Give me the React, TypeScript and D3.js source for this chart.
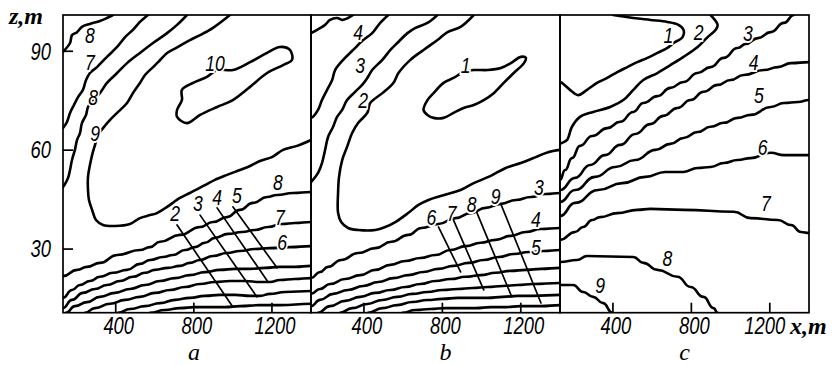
import React from "react";
import * as d3 from "d3";

type P = [number, number];
type L = [number, number, string];

const xDomain = [130, 1400];
const zDomain = [10.7, 101];
const xTicks = [400, 800, 1200];
const zTicks = [30, 60, 90];
const panelLetters = ["a", "b", "c"];

// ---- panel a ----
const aCorner8: P[] = [[130, 89.8], [166, 92.5], [176, 94.9], [202, 95.8], [227, 97.4], [268, 98.3], [319, 99.2], [355, 100.1], [386, 101]];
const a7: P[] = [[565, 101], [524, 98.9], [488, 96.5], [448, 94.3], [407, 91.3], [355, 88.3], [304, 85.2], [268, 83.4], [248, 81.3], [232, 78.3], [207, 76.1], [186, 73.7], [166, 71.3], [150, 68.5], [130, 66.7]];
const a8: P[] = [[765, 101], [714, 98], [663, 95.5], [591, 92.5], [524, 89.5], [458, 86.4], [407, 83.4], [355, 80.4], [319, 77.3], [284, 75.2], [258, 73.1], [248, 70.7], [227, 68.2], [217, 65.2], [202, 63.1], [191, 60.1], [176, 57], [166, 54], [156, 51.6], [140, 49.7], [130, 48.8]];
const a9: P[] = [[985, 101], [898, 97.1], [832, 94.9], [780, 93.4], [719, 91.3], [663, 89.5], [617, 86.7], [591, 85.2], [550, 82.8], [524, 80.4], [488, 77.3], [458, 74.3], [412, 71.6], [371, 69.2], [335, 66.7], [309, 64.6], [294, 61.6], [279, 58.5], [268, 55.5], [258, 51.9], [258, 47.9], [263, 44.9], [279, 41.9], [299, 38.8], [335, 37.3], [396, 37], [473, 37.6], [524, 39.4], [576, 40.3], [611, 40.9], [663, 42.8], [729, 45.5], [780, 47], [857, 49.4], [908, 51], [970, 52.5], [1036, 54], [1088, 55.2], [1139, 56.7], [1200, 57.9], [1257, 60.1], [1328, 61.3], [1400, 63.1]];
const a10: P[] = [[739, 78.3], [796, 80.4], [867, 82.2], [919, 84.3], [1000, 84.3], [1088, 86.7], [1175, 89.5], [1241, 91.3], [1292, 90.4], [1303, 87.4], [1257, 85.8], [1175, 83.4], [1088, 79.2], [1000, 75.2], [919, 73.1], [832, 70.7], [765, 68.2], [714, 70.1], [714, 72.2], [739, 75.2]];
const aLow8: P[] = [[130, 21.8], [202, 23.7], [253, 24.6], [319, 25.8], [407, 28.2], [524, 29.7], [576, 30.6], [627, 32.2], [729, 34.3], [832, 36.7], [898, 38.2], [970, 39.7], [1036, 41.9], [1103, 44], [1175, 45.8], [1226, 46.4], [1308, 47], [1400, 47.3]];
const aLow7: P[] = [[130, 15.2], [176, 17.6], [217, 19.1], [268, 20.3], [319, 21.6], [386, 22.8], [458, 23.7], [524, 25.5], [576, 26.7], [642, 27.6], [693, 28.2], [755, 29.7], [806, 30.6], [857, 31.9], [908, 33.4], [975, 34.6], [1047, 35.2], [1113, 35.8], [1180, 36.7], [1252, 37.6], [1318, 37.9], [1400, 38.2]];
const aLow6: P[] = [[130, 12.1], [176, 14.6], [232, 16.7], [294, 17.9], [355, 19.1], [422, 20.3], [488, 21.6], [550, 22.8], [601, 23.7], [668, 24.3], [729, 24.9], [780, 25.8], [832, 26.7], [898, 27.9], [970, 28.8], [1036, 29.4], [1113, 30], [1190, 30.3], [1292, 30.6], [1400, 30.9]];
const aLow5: P[] = [[145, 10.7], [191, 12.7], [253, 13.9], [319, 15.5], [396, 16.7], [473, 17.9], [550, 19.1], [627, 20.3], [704, 21.2], [780, 22.1], [857, 23], [934, 23.7], [1011, 24], [1088, 24], [1164, 24.3], [1241, 24.6], [1318, 24.6], [1400, 24.9]];
const aLow4: P[] = [[243, 10.7], [294, 12.1], [371, 13.4], [448, 14.6], [524, 15.5], [601, 16.7], [678, 17.6], [755, 18.5], [832, 19.4], [908, 20], [985, 20.3], [1062, 20.3], [1139, 20], [1190, 20], [1241, 20.6], [1318, 20.9], [1400, 21.2]];
const aLow3: P[] = [[412, 10.7], [473, 11.8], [550, 12.7], [627, 13.6], [704, 14.6], [780, 15.2], [857, 15.8], [934, 16.1], [1011, 16.1], [1088, 15.8], [1139, 15.8], [1190, 16.4], [1267, 17], [1400, 17.3]];
const aLow2: P[] = [[576, 10.7], [652, 11.5], [729, 12.1], [806, 12.4], [883, 12.4], [960, 12.4], [1036, 12.7], [1139, 13], [1241, 13], [1400, 13.4]];
const aLeaders: P[][] = [[[714, 37.3], [1000, 12.4]], [[832, 40.3], [1123, 15.5]], [[919, 42.5], [1180, 20]], [[1000, 42.8], [1226, 24.3]]];
const aLabels: L[] = [[268, 95, "8"], [268, 86.8, "7"], [284, 76.1, "8"], [294, 65.2, "9"], [908, 86.4, "10"], [704, 40.9, "2"], [821, 43.9, "3"], [919, 45.8, "4"], [1021, 46.4, "5"], [1231, 50.3, "8"], [1241, 39.7, "7"], [1252, 32.2, "6"]];

// ---- panel b ----
const bCorner: P[] = [[130, 95.5], [161, 96.5], [202, 98], [227, 99.5], [263, 100.1], [289, 99.5], [319, 100.1], [345, 101]];
const b4: P[] = [[524, 101], [483, 98.6], [442, 95.5], [396, 93.4], [345, 90.4], [294, 87.4], [253, 84.3], [238, 81.3], [212, 78.3], [186, 75.2], [166, 72.2], [140, 70.1], [130, 69.8]];
const b3: P[] = [[775, 101], [724, 98.6], [663, 97.1], [622, 95.5], [570, 92.5], [535, 90.4], [494, 87.4], [442, 84.3], [417, 81.9], [391, 79.8], [355, 77.7], [314, 75.2], [289, 72.2], [263, 70.1], [243, 67.1], [217, 64], [202, 60.1], [186, 56.1], [166, 53.1], [130, 50.3]];
const b2: P[] = [[960, 101], [893, 97.4], [826, 95.8], [775, 93.4], [704, 90.4], [637, 87.4], [576, 83.4], [550, 80.4], [494, 77.3], [432, 74.3], [417, 71.3], [371, 68.3], [340, 65.2], [314, 61], [289, 57], [273, 51.9], [268, 47], [268, 41], [284, 38.2], [319, 36.4], [371, 35.8], [458, 35.8], [509, 36.7], [560, 38.2], [627, 41], [678, 43.4], [729, 44.9], [791, 46.1], [893, 47.9], [960, 50], [1047, 52.2], [1123, 54.6], [1200, 56.1], [1277, 57.9], [1339, 59.4], [1400, 60.1]];
const b1: P[] = [[704, 72.2], [724, 75.2], [755, 77.3], [806, 80.4], [857, 81.9], [908, 83.7], [960, 84.3], [1031, 84.3], [1098, 84.9], [1149, 86.4], [1200, 88.3], [1226, 88], [1216, 86.4], [1164, 83.4], [1113, 80.4], [1062, 77.3], [1011, 75.2], [960, 73.7], [908, 72.8], [857, 71.3], [806, 69.8], [755, 69.8], [724, 70.7]];
const bLow3: P[] = [[130, 21.2], [176, 23.05], [217, 24.6], [284, 26.7], [371, 28.8], [458, 30.3], [540, 32.2], [627, 34.3], [693, 36.4], [780, 37.6], [867, 39.4], [944, 40.9], [1021, 42.5], [1098, 43.7], [1175, 44.9], [1252, 45.8], [1328, 46.7], [1400, 47]];
const bLow4: P[] = [[130, 16.4], [176, 17.9], [227, 19.4], [304, 20.9], [381, 22.1], [458, 23.7], [535, 25.2], [611, 26.4], [688, 27.3], [765, 28.2], [842, 29.7], [919, 30.9], [995, 31.9], [1072, 32.8], [1149, 34], [1226, 35.2], [1303, 36.1], [1400, 36.4]];
const bLow5: P[] = [[130, 12.7], [176, 14.6], [243, 16.4], [319, 17.6], [396, 18.8], [473, 20], [550, 21.2], [627, 22.1], [704, 23.05], [780, 24], [857, 24.9], [934, 25.8], [1011, 26.7], [1088, 27.6], [1164, 28.5], [1241, 29.1], [1318, 29.4], [1400, 29.7]];
const bLow6: P[] = [[166, 10.7], [227, 12.7], [304, 14.3], [381, 15.5], [458, 16.7], [535, 17.6], [611, 18.5], [688, 19.4], [765, 20.3], [842, 20.9], [919, 21.6], [995, 22.1], [1072, 22.8], [1149, 23.4], [1226, 23.7], [1303, 24], [1400, 24.3]];
const bLow7: P[] = [[279, 10.7], [340, 12.1], [417, 13.35], [494, 14.56], [570, 15.5], [647, 16.4], [724, 17], [801, 17.6], [878, 17.9], [954, 18.2], [1031, 18.5], [1108, 18.8], [1185, 19.1], [1262, 19.4], [1400, 19.7]];
const bLow8: P[] = [[422, 10.7], [494, 12.1], [570, 13], [647, 13.95], [724, 14.56], [801, 14.9], [878, 15.2], [954, 15.2], [1031, 15.2], [1108, 15.5], [1185, 15.8], [1262, 15.8], [1400, 16.1]];
const bLow9: P[] = [[596, 10.7], [663, 11.5], [739, 11.8], [816, 12.1], [893, 12.1], [970, 12.1], [1047, 12.4], [1123, 12.4], [1200, 12.7], [1303, 12.7], [1400, 13]];
const bLeaders: P[][] = [[[780, 36.7], [893, 23.05]], [[857, 38.8], [1011, 17.6]], [[975, 41.2], [1154, 15.5]], [[1098, 43.7], [1303, 13.65]]];
const bLabels: L[] = [[371, 95.8, "4"], [381, 85.8, "3"], [396, 75.2, "2"], [919, 85.8, "1"], [1292, 48.8, "3"], [1277, 39, "4"], [1277, 30.5, "5"], [744, 39.8, "6"], [847, 41, "7"], [949, 43.6, "8"], [1072, 46, "9"]];

// ---- panel c ----
const c1: P[] = [[401, 101], [504, 100.1], [591, 99.5], [678, 98.9], [734, 98], [760, 96.5], [755, 94.3], [709, 92.5], [678, 91], [627, 89.5], [576, 88], [524, 86.7], [473, 85.2], [422, 83.7], [371, 81.9], [319, 80.4], [268, 78.3], [222, 76.7], [181, 78.3], [140, 80.4], [130, 80.7]];
const c2: P[] = [[898, 101], [934, 98], [924, 96.5], [883, 94.3], [832, 91.3], [760, 88.3], [693, 85.8], [627, 83.4], [555, 81.3], [504, 78.3], [453, 75.2], [386, 73.1], [299, 71.6], [232, 70.1], [191, 67.1], [166, 63.1], [140, 62.2], [130, 61.9]];
const c3: P[] = [[1323, 101], [1272, 98.6], [1205, 95.8], [1139, 94], [1077, 92.2], [1036, 91], [965, 88], [898, 85.2], [832, 83.4], [760, 80.7], [693, 78.9], [627, 76.4], [555, 74.3], [504, 71.6], [437, 68.6], [371, 66.7], [294, 64.3], [232, 61.3], [191, 57.6], [156, 54], [130, 51]];
const c4: P[] = [[1400, 86.7], [1308, 86.4], [1241, 85.2], [1170, 84.3], [1067, 82.8], [1000, 81.3], [934, 79.8], [862, 77.7], [796, 75.2], [729, 72.8], [657, 70.4], [591, 67.9], [514, 64.9], [437, 61.6], [360, 58.5], [284, 55.5], [207, 51.6], [130, 47.9]];
const c5: P[] = [[1400, 75.2], [1344, 74.6], [1272, 74.3], [1205, 73.1], [1103, 70.7], [1036, 69.8], [965, 68.3], [898, 67.1], [832, 65.5], [760, 63.7], [693, 61.9], [617, 60.1], [514, 57], [412, 54.9], [309, 51.9], [207, 47.9], [130, 44.3]];
const c6: P[] = [[1400, 58.5], [1272, 58.5], [1205, 59.2], [1103, 57.6], [1036, 57], [965, 56.1], [898, 54.9], [832, 54.6], [760, 53.4], [668, 53.4], [565, 51.9], [448, 50], [325, 47.9], [207, 44], [130, 40]];
const c7: P[] = [[130, 32.8], [207, 35.2], [248, 36.7], [294, 38.8], [335, 39.7], [422, 40.9], [524, 41.9], [591, 42.2], [760, 41.9], [1016, 41.3], [1103, 39.4], [1241, 38.8], [1308, 37.3], [1359, 35.2], [1400, 34.9]];
const c8: P[] = [[130, 26.1], [217, 26.7], [268, 27.9], [504, 27.6], [555, 25.8], [627, 23.7], [729, 21.6], [796, 18.5], [862, 15.5], [913, 12.1], [934, 10.7]];
const c9: P[] = [[130, 19.1], [197, 19.1], [248, 17], [299, 15.5], [350, 13.6], [396, 10.7]];
const cLabels: L[] = [[683, 94.9, "1"], [837, 95.8, "2"], [1088, 95.5, "3"], [1118, 86.7, "4"], [1144, 76.8, "5"], [1164, 61, "6"], [1180, 43.9, "7"], [678, 27.3, "8"], [335, 19, "9"]];

const panels = [
  { smooth: [aCorner8, a7, a8, a9], loops: [a10], steps: [aLow8, aLow7, aLow6, aLow5, aLow4, aLow3, aLow2], leaders: aLeaders, labels: aLabels },
  { smooth: [bCorner, b4, b3, b2], loops: [b1], steps: [bLow3, bLow4, bLow5, bLow6, bLow7, bLow8, bLow9], leaders: bLeaders, labels: bLabels },
  { smooth: [c1, c2], loops: [], steps: [c3, c4, c5, c6, c7, c8, c9], leaders: [], labels: cLabels },
];

const sans = "'Liberation Sans', Arial, sans-serif";
const serif = "'Liberation Serif', 'Times New Roman', serif";

// italic digits squeezed sideways, as in the printed figure
const Num = ({ x, y, text, anchor = "middle", halo = false, dy = "0", size = 23 }: any) => (
  <g transform={`translate(${x},${y}) scale(0.8,1)`}>
    <text textAnchor={anchor} dy={dy} fontFamily={sans} fontStyle="italic" fontSize={size} fill="#000"
      stroke={halo ? "#fff" : "none"} strokeWidth={4} paintOrder="stroke">
      {text}
    </text>
  </g>
);

export default function App() {
  const top = 15;
  const bottom = 312.7;
  const edges = [63, 311, 560, 809];
  const letterShift = [7, 10, 0];
  const z = d3.scaleLinear().domain(zDomain).range([bottom, top]);

  return (
    <svg width={833} height={365} style={{ position: "absolute", left: 0, top: 0, background: "#fff" }}>
      <defs>
        {panels.map((_, i) => (
          <clipPath id={`clip${i}`} key={i}>
            <rect x={edges[i]} y={top} width={edges[i + 1] - edges[i]} height={bottom - top} />
          </clipPath>
        ))}
      </defs>
      {panels.map((p, i) => {
        const x = d3.scaleLinear().domain(xDomain).range([edges[i], edges[i + 1]]);
        const smooth = d3.line<P>().x((d) => x(d[0])).y((d) => z(d[1])).curve(d3.curveCatmullRom);
        const step = d3.line<P>().x((d) => x(d[0])).y((d) => z(d[1])).curve(d3.curveBumpX);
        const loop = d3.line<P>().x((d) => x(d[0])).y((d) => z(d[1])).curve(d3.curveCatmullRomClosed);
        const straight = d3.line<P>().x((d) => x(d[0])).y((d) => z(d[1]));
        return (
          <g key={i}>
            <g clipPath={`url(#clip${i})`} fill="none" stroke="#000" strokeLinejoin="round" strokeLinecap="round">
              {p.smooth.map((c, j) => <path key={"s" + j} d={smooth(c) || ""} strokeWidth={2.6} />)}
              {p.steps.map((c, j) => <path key={"t" + j} d={step(c) || ""} strokeWidth={2.6} />)}
              {p.loops.map((c, j) => <path key={"l" + j} d={loop(c) || ""} strokeWidth={2.6} />)}
              {p.leaders.map((c, j) => <path key={"d" + j} d={straight(c) || ""} strokeWidth={1.7} />)}
            </g>
            {p.labels.map((l, j) => (
              <Num key={j} x={x(l[0])} y={z(l[1])} dy="0.36em" text={l[2]} halo size={22} />
            ))}
            {xTicks.map((t) => (
              <g key={t}>
                <line x1={x(t)} x2={x(t)} y1={bottom} y2={bottom - 10} stroke="#000" strokeWidth={1.7} />
                <Num x={x(t) + (i === 2 && t === 1200 ? -5 : 3)} y={334} text={t} />
              </g>
            ))}
            <text x={(edges[i] + edges[i + 1]) / 2 + letterShift[i]} y={360} textAnchor="middle" fontFamily={serif}
              fontStyle="italic" fontSize={24}>{panelLetters[i]}</text>
            <rect x={edges[i]} y={top} width={edges[i + 1] - edges[i]} height={bottom - top}
              fill="none" stroke="#000" strokeWidth={1.7} />
          </g>
        );
      })}
      {zTicks.map((t) => (
        <g key={t}>
          <line x1={edges[0]} x2={edges[0] + 10} y1={z(t)} y2={z(t)} stroke="#000" strokeWidth={1.7} />
          <Num x={51} y={z(t)} dy="0.36em" anchor="end" text={t} />
        </g>
      ))}
      <text x={9} y={24} fontFamily={serif} fontStyle="italic" fontWeight="bold" fontSize={24}>z,m</text>
      <text x={790} y={334} fontFamily={serif} fontStyle="italic" fontWeight="bold" fontSize={24}>x,m</text>
    </svg>
  );
}
